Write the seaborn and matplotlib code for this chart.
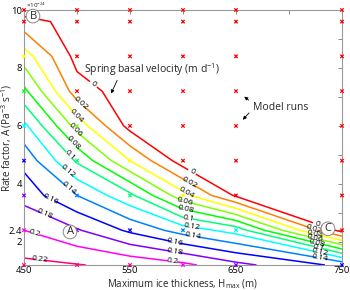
import numpy as np
import pandas as pd
import matplotlib
matplotlib.use('Agg')
import matplotlib.pyplot as plt
import seaborn as sns

# model grid: maximum ice thickness (m) and rate factor A (x1e-24 Pa^-3 s^-1)
h_max = [450, 500, 550, 600, 650, 750]
rate_a = [1.2, 2.4, 3.6, 4.8, 6.0, 7.2, 8.4, 9.6, 10.0]

# spring basal velocity (m/d) per H_max column, bottom (A=1.2) to top (A=10)
vel_450 = [0.225, 0.200, 0.172, 0.154, 0.125, 0.085, 0.050, 0.008, -0.010]
vel_500 = [0.221, 0.182, 0.140, 0.097, 0.052, 0.009, -0.007, -0.008, -0.012]
vel_550 = [0.215, 0.156, 0.105, 0.040, -0.007, -0.010, -0.020, -0.030, -0.035]
vel_600 = [0.205, 0.131, 0.047, -0.010, -0.020, -0.030, -0.040, -0.050, -0.055]
vel_650 = [0.186, 0.112, -0.003, -0.020, -0.030, -0.040, -0.050, -0.060, -0.065]
vel_750 = [0.155, -0.008, -0.030, -0.040, -0.050, -0.060, -0.070, -0.080, -0.085]

levels = [0, 0.02, 0.04, 0.06, 0.08, 0.1, 0.12, 0.14, 0.16, 0.18, 0.2, 0.22]

sns.set_theme(style='white')
plt.rcParams['font.family'] = ['Open Sans', 'DejaVu Sans']
plt.rcParams['mathtext.default'] = 'regular'

Z = np.column_stack([vel_450, vel_500, vel_550, vel_600, vel_650, vel_750])
pal = sns.hls_palette(len(levels), h=0, l=0.5, s=1)

fig = plt.figure(figsize=(3.5, 2.9), dpi=100)
ax = fig.add_axes([24 / 350, 25 / 290, 318 / 350, 255 / 290])

cs = ax.contour(h_max, rate_a, Z, levels=levels, colors=pal, linewidths=1.1)

# inline labels, placed level by level
label_pos = {
    0: [(515, 7.41), (608, 4.38), (726, 2.55)],
    0.02: [(502, 6.72), (605, 3.97), (722, 2.33)],
    0.04: [(498, 6.31), (602, 3.62), (724, 2.16)],
    0.06: [(496, 5.79), (602, 3.34), (724, 1.99)],
    0.08: [(493, 5.28), (602, 3.03), (726, 1.85)],
    0.1: [(491, 4.93), (605, 2.76), (727, 1.7)],
    0.12: [(491, 4.41), (608, 2.41), (728, 1.5)],
    0.14: [(491, 3.79), (609, 2.14), (729, 1.3)],
    0.16: [(475, 3.45), (592, 1.9)],
    0.18: [(470, 3.0), (592, 1.62)],
    0.2: [(460, 2.24), (590, 1.28)],
    0.22: [(465, 1.45)],
}
ax.clabel(cs, levels, manual=[], inline=True, inline_spacing=2,
          fontsize=6, fmt=lambda v: f'{v:g}', colors='black')
for lv, pos in label_pos.items():
    cs.labelIndiceList = [levels.index(lv)]
    for px, py in pos:
        cs.add_label_near(px, py, inline=True, inline_spacing=2)

# model runs, coloured by their velocity
runs = pd.DataFrame([(h, a, Z[i, j]) for j, h in enumerate(h_max)
                     for i, a in enumerate(rate_a)], columns=['H', 'A', 'v'])
runs['cls'] = np.clip(np.round(runs['v'] / 0.02), 0, len(levels) - 1).astype(int)
sns.scatterplot(data=runs, x='H', y='A', hue='cls', palette={k: pal[k] for k in range(len(levels))},
                marker='x', s=6, linewidth=0.9, legend=False, ax=ax, clip_on=False, zorder=5)

ax.set_xlim(450, 750)
ax.set_ylim(1.2, 10)
ax.set_xticks([450, 550, 650, 750])
ax.set_xticks([500, 600, 700], minor=True)
ax.set_yticks([2, 2.4, 4, 6, 8, 10])
ax.set_yticklabels(['2', '2.4', '4', '6', '8', '10'])
ax.set_yticks([3, 5, 7, 9], minor=True)
ax.tick_params(which='both', direction='in', top=True, right=True, length=3,
               width=0.6, color='#777777', labelsize=6.8, pad=1.5, labelcolor='black')
ax.tick_params(axis='x', pad=0.5)
for sp in ax.spines.values():
    sp.set_color('#999999')
    sp.set_linewidth(0.8)

ax.set_xlabel('Maximum ice thickness, H$_{max}$ (m)', fontsize=7)
ax.set_ylabel('Rate factor, A (Pa$^{-3}$ s$^{-1}$)', fontsize=7.2)
ax.xaxis.set_label_coords(0.5, -0.047)
ax.yaxis.set_label_coords(-0.03, 0.5)
ax.text(0.005, 1.0, '×10$^{-24}$', transform=ax.transAxes, fontsize=4.5, va='bottom', ha='left')

ax.text(507, 7.93, 'Spring basal velocity (m d$^{-1}$)', fontsize=7.5, va='center', ha='left')
ax.annotate('', xy=(531, 7.03), xytext=(539, 7.66),
            arrowprops=dict(arrowstyle='-|>', color='black', lw=0.6, mutation_scale=5))
ax.text(666, 6.64, 'Model runs', fontsize=7.5, va='center', ha='left')
ax.annotate('', xy=(655.7, 7.07), xytext=(664, 6.83),
            arrowprops=dict(arrowstyle='-|>', color='black', lw=0.6, mutation_scale=5))
ax.annotate('', xy=(654.7, 6.14), xytext=(664, 6.52),
            arrowprops=dict(arrowstyle='-|>', color='black', lw=0.6, mutation_scale=5))

for lab, (hx, ay) in {'A': (493.4, 2.34), 'B': (458.5, 9.79), 'C': (736.8, 2.45)}.items():
    ax.text(hx, ay, lab, fontsize=8, ha='center', va='center', zorder=6,
            bbox=dict(boxstyle='circle,pad=0.12', fc='white', ec='#888888', lw=0.7))

fig.savefig('out.png', dpi=100)
